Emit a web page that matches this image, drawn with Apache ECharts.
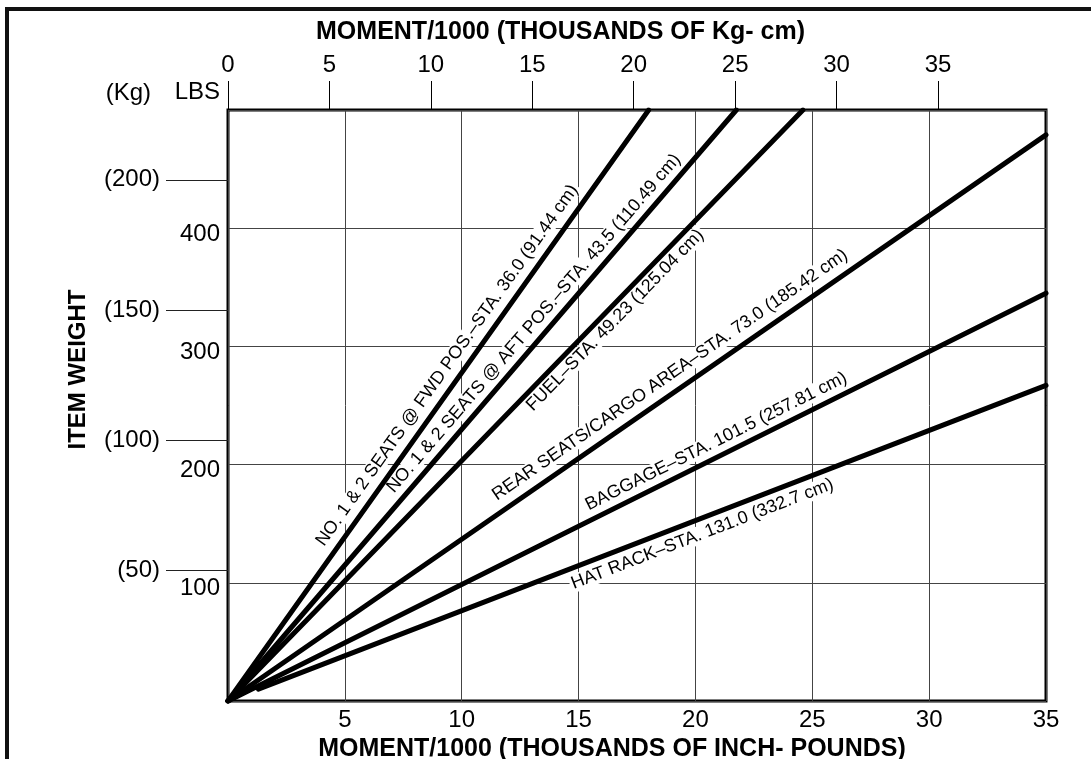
<!DOCTYPE html>
<html>
<head>
<meta charset="utf-8">
<script src="https://cdn.jsdelivr.net/npm/echarts@6/dist/echarts.min.js"></script>
<style>
  html, body { margin: 0; padding: 0; background: #fff; }
  #chart { width: 1091px; height: 759px; }
</style>
</head>
<body>
<div id="chart"></div>
<script>
// Axis tick values
const momentTicks = [5, 10, 15, 20, 25, 30, 35];      // thousands of inch-pounds (bottom)
const kgCmTicks = [0, 5, 10, 15, 20, 25, 30, 35];     // thousands of kg-cm (top)
const lbsTicks = [100, 200, 300, 400];                // item weight, pounds
const kgTicks = [50, 100, 150, 200];                  // item weight, kilograms

// Loading lines: [moment/1000 in-lb, weight lbs] end points
const fwdSeats  = [[0, 0], [18.0, 500]];
const aftSeats  = [[0, 0], [21.75, 500]];
const fuel      = [[0, 0], [24.6, 500]];
const rearSeats = [[0, 0], [35, 479]];
const baggage   = [[0, 0], [35, 345]];
const hatRack   = [[1.3, 10], [35, 267]];

const lineLabels = [
  'NO. 1 & 2 SEATS @ FWD POS.\u2013STA. 36.0 (91.44 cm)',
  'NO. 1 & 2 SEATS @ AFT POS.\u2013STA. 43.5 (110.49 cm)',
  'FUEL\u2013STA. 49.23 (125.04 cm)',
  'REAR SEATS/CARGO AREA\u2013STA. 73.0 (185.42 cm)',
  'BAGGAGE\u2013STA. 101.5 (257.81 cm)',
  'HAT RACK\u2013STA. 131.0 (332.7 cm)'
];
const lineData = [fwdSeats, aftSeats, fuel, rearSeats, baggage, hatRack];

// Where each caption sits: fraction along its line, and signed distance
// from the line (positive = upper-left side)
const labelPlacement = [
  { t: 0.247, off: 16 },
  { t: 0.338, off: 14.5 },
  { t: 0.507, off: -12 },
  { t: 0.335, off: 16.5 },
  { t: 0.444, off: 14.5 },
  { t: 0.389, off: -15 }
];

const LB_PER_KG = 2.20462;
const INLB_PER_KGCM = 0.867962;
const FONT = '"Liberation Sans", Arial, Helvetica, sans-serif';

const chart = echarts.init(document.getElementById('chart'), null, { renderer: 'canvas' });

const tickText = { fontFamily: FONT, fontSize: 24, color: '#000' };
const titleText = { fontFamily: FONT, fontSize: 25, fontWeight: 'bold', color: '#000' };
const noLine = { show: false, onZero: false };

const option = {
  animation: false,
  backgroundColor: '#fff',
  grid: {
    left: 228, top: 110, right: 45, bottom: 58,
    outerBoundsMode: 'none', containLabel: false,
    show: true, borderColor: '#000', borderWidth: 3, backgroundColor: 'transparent'
  },
  xAxis: [
    {
      type: 'value', position: 'bottom', min: 0, max: 35, interval: 5,
      name: 'MOMENT/1000 (THOUSANDS OF INCH- POUNDS)',
      nameLocation: 'middle', nameGap: 25,
      nameTextStyle: Object.assign({}, titleText, { padding: [0, 50, 0, 0] }),
      axisLine: noLine,
      axisTick: { show: false },
      axisLabel: Object.assign({ customValues: momentTicks, margin: 7 }, tickText),
      splitLine: { show: true, lineStyle: { color: '#444', width: 1 } }
    },
    {
      type: 'value', position: 'top', min: 0, max: 35 / INLB_PER_KGCM,
      name: 'MOMENT/1000 (THOUSANDS OF Kg- cm)',
      nameLocation: 'middle', nameGap: 65,
      nameTextStyle: Object.assign({}, titleText, { padding: [0, 153, 0, 0] }),
      axisLine: noLine,
      axisTick: { show: true, customValues: kgCmTicks, length: 29, lineStyle: { color: '#000', width: 1 } },
      axisLabel: Object.assign({ customValues: kgCmTicks, margin: 33 }, tickText),
      splitLine: { show: false }
    }
  ],
  yAxis: [
    {
      type: 'value', position: 'left', min: 0, max: 500, interval: 100,
      name: 'LBS', nameLocation: 'end', nameGap: 18,
      nameTextStyle: Object.assign({}, tickText, { align: 'right', verticalAlign: 'middle', padding: [0, 8, 0, 0] }),
      axisLine: noLine,
      axisTick: { show: false },
      axisLabel: Object.assign({ customValues: lbsTicks, margin: 8, verticalAlign: 'top', lineHeight: 12 }, tickText),
      splitLine: { show: true, lineStyle: { color: '#444', width: 1 } }
    },
    {
      type: 'value', position: 'left', offset: 0, min: 0, max: 500 / LB_PER_KG,
      name: '(Kg)', nameLocation: 'end', nameGap: 17,
      nameTextStyle: Object.assign({}, tickText, { align: 'right', verticalAlign: 'middle', padding: [0, 77, 0, 0] }),
      axisLine: noLine,
      axisTick: { show: true, customValues: kgTicks, length: 62, lineStyle: { color: '#222', width: 1 } },
      axisLabel: Object.assign({ customValues: kgTicks, margin: 68, formatter: v => '(' + v + ')' }, tickText),
      splitLine: { show: false }
    },
    {
      type: 'value', position: 'left', min: 0, max: 1,
      name: 'ITEM WEIGHT', nameLocation: 'middle', nameRotate: 90, nameGap: 138,
      nameTextStyle: Object.assign({}, titleText, { fontSize: 24, padding: [0, 0, 0, 72] }),
      axisLine: noLine, axisTick: { show: false },
      axisLabel: { show: false }, splitLine: { show: false }
    }
  ],
  series: lineData.map((d, i) => ({
    type: 'line',
    name: lineLabels[i],
    xAxisIndex: 0, yAxisIndex: 0,
    data: d,
    symbol: 'none',
    silent: true,
    z: 3,
    lineStyle: { color: '#000', width: 5, cap: 'round' }
  }))
};

chart.setOption(option);

// Captions written along each line, rotated to the line's on-screen angle
function placeLabels() {
  const captions = lineData.map((d, i) => {
    const p0 = chart.convertToPixel({ xAxisIndex: 0, yAxisIndex: 0 }, d[0]);
    const p1 = chart.convertToPixel({ xAxisIndex: 0, yAxisIndex: 0 }, d[d.length - 1]);
    const dx = p1[0] - p0[0], dy = p1[1] - p0[1];
    const len = Math.hypot(dx, dy);
    const ux = dx / len, uy = dy / len;
    const nx = uy, ny = -ux;
    const pl = labelPlacement[i];
    return {
      type: 'text',
      x: p0[0] + ux * len * pl.t + nx * pl.off,
      y: p0[1] + uy * len * pl.t + ny * pl.off,
      rotation: Math.atan2(-dy, dx),
      z: 1,
      silent: true,
      style: {
        text: lineLabels[i],
        fill: '#000',
        font: '18px ' + FONT,
        align: 'left', textAlign: 'left',
        verticalAlign: 'middle', textVerticalAlign: 'middle',
        backgroundColor: '#fff',
        padding: [0, 2]
      }
    };
  });
  const frame = {
    type: 'polyline',
    z: 0,
    silent: true,
    shape: { points: [[7, 759], [7, 9], [1091, 9]] },
    style: { stroke: '#111', lineWidth: 4, fill: null }
  };
  chart.setOption({ graphic: { elements: [frame].concat(captions) } });
}
placeLabels();
</script>
</body>
</html>
